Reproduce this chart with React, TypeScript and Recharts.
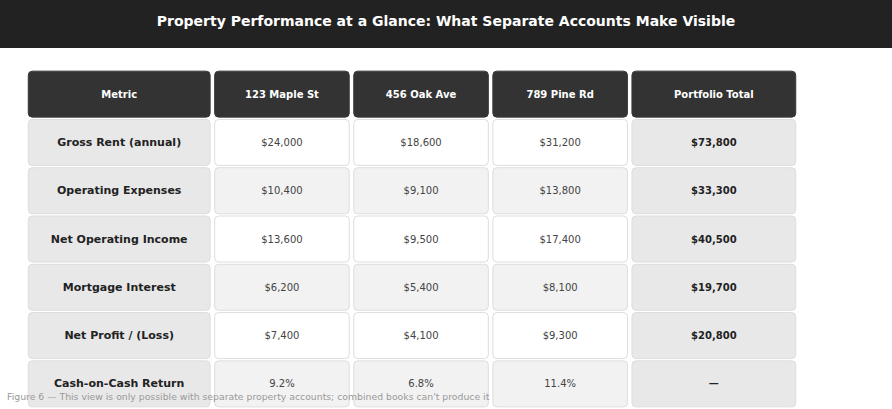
import React from 'react';
import { ScatterChart, Scatter, XAxis, YAxis } from 'recharts';

// table content
const columns = ['Metric', '123 Maple St', '456 Oak Ave', '789 Pine Rd', 'Portfolio Total'];
const metrics = [
    'Gross Rent (annual)',
    'Operating Expenses',
    'Net Operating Income',
    'Mortgage Interest',
    'Net Profit / (Loss)',
    'Cash-on-Cash Return',
];
const mapleSt = ['$24,000', '$10,400', '$13,600', '$6,200', '$7,400', '9.2%'];
const oakAve = ['$18,600', '$9,100', '$9,500', '$5,400', '$4,100', '6.8%'];
const pineRd = ['$31,200', '$13,800', '$17,400', '$8,100', '$9,300', '11.4%'];
const portfolioTotal = ['$73,800', '$33,300', '$40,500', '$19,700', '$20,800', '—'];

const TITLE = 'Property Performance at a Glance: What Separate Accounts Make Visible';
const CAPTION =
    "Figure 6 — This view is only possible with separate property accounts; combined books can't produce it";

// layout
const W = 892;
const H = 409;
const MARGIN = { top: 70, right: 94, bottom: 1, left: 26 };
const COL_WEIGHTS = [1.34, 1, 1, 1, 1.21];
const TOTAL_WEIGHT = COL_WEIGHTS.reduce((a, b) => a + b, 0);
const ROWS = metrics.length + 1;
const PLOT_W = W - MARGIN.left - MARGIN.right;
const PLOT_H = H - MARGIN.top - MARGIN.bottom;
const UNIT = PLOT_W / TOTAL_WEIGHT;
const ROW_PITCH = PLOT_H / ROWS;
const GAP_X = 4.5;
const GAP_Y = 2.3;
const FONT = '"DejaVu Sans", Verdana, sans-serif';

const colStarts = COL_WEIGHTS.map((_, i) => COL_WEIGHTS.slice(0, i).reduce((a, b) => a + b, 0));
const bodyColumns = [metrics, mapleSt, oakAve, pineRd, portfolioTotal];

const cells: Array<{ x: number; row: number; col: number; span: number; text: string }> = [];
columns.forEach((name, c) => {
    cells.push({ x: colStarts[c] + COL_WEIGHTS[c] / 2, row: 0, col: c, span: COL_WEIGHTS[c], text: name });
    bodyColumns[c].forEach((text, r) => {
        cells.push({ x: colStarts[c] + COL_WEIGHTS[c] / 2, row: r + 1, col: c, span: COL_WEIGHTS[c], text });
    });
});

const CellShape = (props: any) => {
    const { cx, cy, payload } = props;
    const w = payload.span * UNIT - GAP_X;
    const h = ROW_PITCH - GAP_Y;
    const header = payload.row === 0;
    const side = payload.col === 0 || payload.col === columns.length - 1;
    let fill = payload.row % 2 === 1 ? '#ffffff' : '#f2f2f2';
    if (side) fill = '#e8e8e8';
    if (header) fill = '#333333';
    const bold = header || side;
    return (
        <g>
            <rect
                x={cx - w / 2}
                y={cy - h / 2}
                width={w}
                height={h}
                rx={4}
                fill={fill}
                stroke={header ? '#3a3a3a' : '#dddddd'}
                strokeWidth={1}
            />
            <text
                x={cx}
                y={cy}
                textAnchor="middle"
                dominantBaseline="central"
                fontFamily={FONT}
                fontSize={header ? 10 : payload.col === 0 ? 11 : 10}
                fontWeight={bold ? 'bold' : 'normal'}
                fill={header ? '#ffffff' : bold ? '#222222' : '#444444'}
            >
                {payload.text}
            </text>
        </g>
    );
};

export default function App() {
    return (
        <div style={{ position: 'absolute', left: 0, top: 0, width: W, height: H, background: '#ffffff', overflow: 'hidden' }}>
            <div
                style={{
                    position: 'absolute',
                    left: 0,
                    top: 0,
                    width: W,
                    height: 48,
                    background: '#222222',
                    color: '#ffffff',
                    fontFamily: FONT,
                    fontWeight: 'bold',
                    fontSize: 14,
                    textAlign: 'center',
                    lineHeight: '42px',
                }}
            >
                {TITLE}
            </div>
            <div style={{ position: 'absolute', left: 0, top: 0 }}>
                <ScatterChart width={W} height={H} margin={MARGIN}>
                    <XAxis type="number" dataKey="x" domain={[0, TOTAL_WEIGHT]} hide />
                    <YAxis type="number" dataKey="row" domain={[-0.5, ROWS - 0.5]} reversed hide />
                    <Scatter data={cells} shape={CellShape} isAnimationActive={false} />
                </ScatterChart>
            </div>
            <div
                style={{
                    position: 'absolute',
                    left: 7,
                    top: 391,
                    fontFamily: FONT,
                    fontSize: 9.3,
                    color: '#999999',
                    whiteSpace: 'nowrap',
                }}
            >
                {CAPTION}
            </div>
        </div>
    );
}
